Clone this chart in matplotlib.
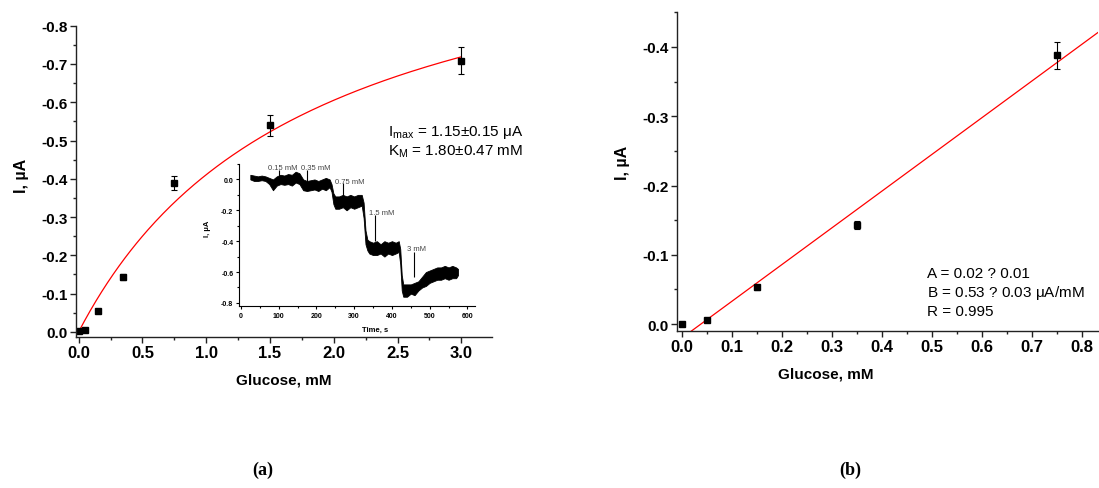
import numpy as np
import matplotlib.pyplot as plt
from matplotlib.ticker import MultipleLocator

plt.rcParams['font.family'] = ['Liberation Sans', 'DejaVu Sans']
plt.rcParams['mathtext.fontset'] = 'custom'
plt.rcParams['mathtext.rm'] = 'Liberation Sans'
plt.rcParams['mathtext.it'] = 'Liberation Sans'

# (a) calibration data
conc_a = [0.0, 0.05, 0.15, 0.35, 0.75, 1.5, 3.0]
curr_a = [-0.002, -0.006, -0.055, -0.143, -0.39, -0.54, -0.709]
err_a = [0.003, 0.004, 0.005, 0.008, 0.018, 0.027, 0.036]
i_max, k_m = 1.15, 1.80

# (b) linear range
conc_b = [0.0, 0.05, 0.15, 0.35, 0.75]
curr_b = [0.0, -0.006, -0.053, -0.143, -0.388]
err_b = [0.003, 0.003, 0.004, 0.006, 0.0195]
fit_a, fit_b = 0.02, 0.53

# inset amperometric trace (upper / lower edge of the noisy band)
t_trace = [25, 35, 45, 55, 65, 75, 85, 95, 105, 115, 125, 135, 145, 155, 165, 175,
           185, 195, 205, 215, 225, 235, 240, 245, 250, 260, 270, 280, 290, 300, 310,
           320, 325, 330, 335, 340, 350, 360, 370, 380, 390, 400, 410, 418, 422, 426,
           430, 440, 450, 460, 470, 480, 490, 500, 510, 520, 530, 540, 550, 560, 570, 575]
i_hi = [0.03, 0.025, 0.02, 0.025, 0.02, 0.01, 0.0, 0.02, 0.03, 0.025, 0.035, 0.03, 0.05,
        0.04, 0.0, -0.01, -0.005, 0.0, -0.01, 0.0, 0.01, 0.0, -0.03, -0.09, -0.11, -0.11,
        -0.1, -0.11, -0.1, -0.11, -0.1, -0.1, -0.15, -0.33, -0.39, -0.4, -0.41, -0.4,
        -0.42, -0.4, -0.41, -0.4, -0.41, -0.4, -0.45, -0.62, -0.68, -0.68, -0.68, -0.67,
        -0.66, -0.63, -0.6, -0.59, -0.58, -0.57, -0.57, -0.56, -0.57, -0.56, -0.57, -0.58]
i_lo = [0.0, -0.01, -0.01, -0.005, -0.01, -0.03, -0.07, -0.04, -0.03, -0.035, -0.03, -0.04,
        -0.02, -0.03, -0.07, -0.075, -0.07, -0.065, -0.075, -0.06, -0.07, -0.05, -0.08,
        -0.16, -0.19, -0.19, -0.18, -0.2, -0.18, -0.19, -0.18, -0.17, -0.25, -0.42, -0.46,
        -0.48, -0.49, -0.49, -0.48, -0.5, -0.48, -0.49, -0.48, -0.47, -0.55, -0.72, -0.76,
        -0.76, -0.74, -0.75, -0.72, -0.7, -0.69, -0.67, -0.66, -0.65, -0.65, -0.64, -0.65,
        -0.64, -0.64, -0.62]
add_labels = ['0.15 mM', '0.35 mM', '0.75 mM', '1.5 mM', '3 mM']
add_t = [100, 175, 270, 355, 458]
add_top = [0.06, 0.06, -0.026, -0.23, -0.47]
add_bot = [0.006, -0.015, -0.12, -0.40, -0.63]
label_t = [73, 160, 248, 340, 441]
label_i = [0.075, 0.075, -0.015, -0.215, -0.445]

spine_c = '#222222'

def style_axes(ax, xsize, ysize):
    for s in ['top', 'right']:
        ax.spines[s].set_visible(False)
    for s in ['left', 'bottom']:
        ax.spines[s].set_color(spine_c)
        ax.spines[s].set_linewidth(1.0)
    ax.tick_params(which='major', direction='out', length=4, width=1.0, color=spine_c, pad=2)
    ax.tick_params(which='minor', direction='out', length=2.5, width=1.0, color=spine_c)
    for lab in ax.get_xticklabels():
        lab.set_fontweight('bold'); lab.set_fontsize(xsize)
    for lab in ax.get_yticklabels():
        lab.set_fontweight('bold'); lab.set_fontsize(ysize)

fig = plt.figure(figsize=(10.99, 4.89), dpi=100)

# ---- panel (a)
ax1 = fig.add_axes([0.0692, 0.3098, 0.3785, 0.6356])
c = np.linspace(0, 3.0, 200)
ax1.plot(c, -i_max * c / (k_m + c), color='red', lw=0.9)
ax1.errorbar(conc_a, curr_a, yerr=err_a, fmt='s', color='black', ms=4,
             ecolor='black', elinewidth=0.8, capsize=2.4, capthick=0.8)
ax1.set_xlim(-0.02, 3.24)
ax1.set_ylim(0.012, -0.8)
ax1.xaxis.set_minor_locator(MultipleLocator(0.25))
ax1.yaxis.set_minor_locator(MultipleLocator(0.05))
ax1.set_xticks([0, 0.5, 1.0, 1.5, 2.0, 2.5, 3.0])
ax1.set_yticks(np.round(np.arange(0, -0.81, -0.1), 1))
ax1.set_yticklabels(['0.0'] + ['%.1f' % v for v in np.arange(-0.1, -0.81, -0.1)])
style_axes(ax1, 12, 11)
ax1.set_xlabel('Glucose, mM', fontsize=11, fontweight='bold')
ax1.xaxis.set_label_coords(0.5, -0.115)
ax1.set_ylabel('I, \u00b5A', fontsize=11.5, fontweight='bold')
ax1.yaxis.set_label_coords(-0.112, 0.52)

fig.text(388 / 1099, 1 - 136 / 489, r'I$_{\mathrm{max}}$ = 1.15$\pm$0.15 $\mu$A',
         fontsize=11, va='baseline')
fig.text(388 / 1099, 1 - 156 / 489, r'K$_{\mathrm{M}}$ = 1.80$\pm$0.47 mM',
         fontsize=11, va='baseline')

# ---- inset
axi = fig.add_axes([239 / 1099, 1 - 307 / 489, 236 / 1099, 142 / 489])
axi.fill_between(t_trace, i_lo, i_hi, color='black', lw=0.6, edgecolor='black')
axi.vlines(add_t, add_bot, add_top, color='black', lw=0.8)
for lab, tx, iy in zip(add_labels, label_t, label_i):
    axi.text(tx, iy, lab, fontsize=5.5, color='#444444', va='center', ha='left')
axi.set_xlim(-5, 620)
axi.set_ylim(-0.82, 0.1)
axi.xaxis.set_minor_locator(MultipleLocator(50))
axi.yaxis.set_minor_locator(MultipleLocator(0.1))
axi.set_xticks([0, 100, 200, 300, 400, 500, 600])
axi.set_yticks([0.0, -0.2, -0.4, -0.6, -0.8])
axi.set_yticklabels(['0.0', '-0.2', '-0.4', '-0.6', '-0.8'])
for s in ['top', 'right']:
    axi.spines[s].set_visible(False)
for s in ['left', 'bottom']:
    axi.spines[s].set_linewidth(0.8)
axi.tick_params(which='major', direction='out', length=2.5, width=0.8, pad=1.5, labelsize=5)
axi.tick_params(which='minor', direction='out', length=1.5, width=0.8)
for lab in axi.get_xticklabels() + axi.get_yticklabels():
    lab.set_fontweight('bold')
axi.set_xlabel('Time, s', fontsize=5.5, fontweight='bold')
axi.xaxis.set_label_coords(0.576, -0.14)
axi.set_ylabel('I, \u00b5A', fontsize=5.5, fontweight='bold')
axi.yaxis.set_label_coords(-0.12, 0.55)

# ---- panel (b)
ax2 = fig.add_axes([677 / 1099, 1 - 332 / 489, 421 / 1099, 319 / 489])
xl = np.array([0.0, 0.84])
ax2.plot(xl, fit_a - fit_b * xl, color='red', lw=0.9)
ax2.errorbar(conc_b, curr_b, yerr=err_b, fmt='s', color='black', ms=4,
             ecolor='black', elinewidth=0.8, capsize=2.4, capthick=0.8)
ax2.set_xlim(-0.01, 0.832)
ax2.set_ylim(0.01, -0.4505)
ax2.xaxis.set_minor_locator(MultipleLocator(0.05))
ax2.yaxis.set_minor_locator(MultipleLocator(0.05))
ax2.set_xticks(np.round(np.arange(0, 0.81, 0.1), 1))
ax2.set_yticks([0.0, -0.1, -0.2, -0.3, -0.4])
ax2.set_yticklabels(['0.0', '-0.1', '-0.2', '-0.3', '-0.4'])
style_axes(ax2, 12, 11)
ax2.set_xlabel('Glucose, mM', fontsize=11, fontweight='bold')
ax2.xaxis.set_label_coords((826 - 677) / 421, -0.11)
ax2.set_ylabel('I, \u00b5A', fontsize=11.5, fontweight='bold')
ax2.yaxis.set_label_coords(-0.112, 0.53)

fig.text(927 / 1099, 1 - 278 / 489, 'A = 0.02 ? 0.01', fontsize=11, va='baseline')
fig.text(927 / 1099, 1 - 297 / 489, r'B = 0.53 ? 0.03 $\mu$A/mM', fontsize=11, va='baseline')
fig.text(927 / 1099, 1 - 316 / 489, 'R = 0.995', fontsize=11, va='baseline')

# captions
fig.text(263 / 1099, 1 - 470 / 489, '(a)', fontsize=13, fontweight='bold',
         family='Liberation Serif', ha='center', va='center')
fig.text(850 / 1099, 1 - 470 / 489, '(b)', fontsize=13, fontweight='bold',
         family='Liberation Serif', ha='center', va='center')

fig.savefig('out.png', dpi=100)
